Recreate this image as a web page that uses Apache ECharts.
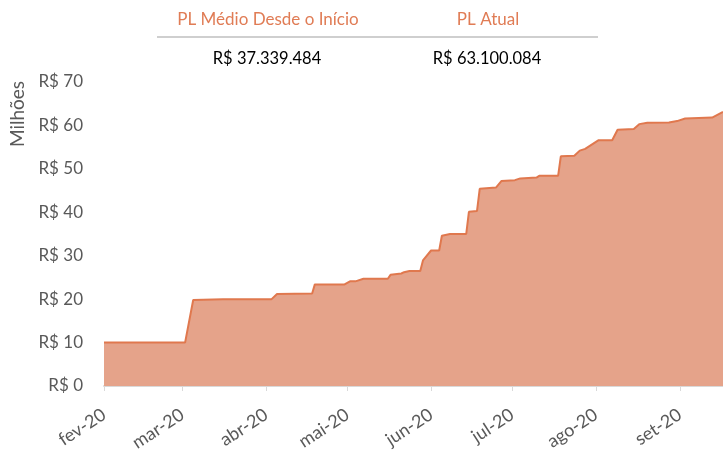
<!DOCTYPE html>
<html>
<head>
<meta charset="utf-8">
<script src="https://cdn.jsdelivr.net/npm/echarts@6/dist/echarts.min.js"></script>
<style>
  html, body { margin: 0; padding: 0; background: #fff; }
  #chart { width: 723px; height: 453px; }
</style>
</head>
<body>
<div id="chart"></div>
<script>
const dates = [
  '2020-02-01', '2020-03-02', '2020-03-05', '2020-03-16', '2020-04-03', '2020-04-05',
  '2020-04-18', '2020-04-19', '2020-04-30', '2020-05-02', '2020-05-04', '2020-05-07',
  '2020-05-16', '2020-05-17', '2020-05-21', '2020-05-22', '2020-05-24', '2020-05-28',
  '2020-05-29', '2020-06-01', '2020-06-04', '2020-06-05', '2020-06-08', '2020-06-14',
  '2020-06-15', '2020-06-18', '2020-06-19', '2020-06-25', '2020-06-27', '2020-07-02',
  '2020-07-04', '2020-07-10', '2020-07-11', '2020-07-18', '2020-07-19', '2020-07-24',
  '2020-07-26', '2020-07-28', '2020-08-02', '2020-08-07', '2020-08-09', '2020-08-15',
  '2020-08-17', '2020-08-20', '2020-08-28', '2020-08-31', '2020-09-03', '2020-09-13',
  '2020-09-17'
]
const plMillions = [
  10.0, 10.0, 19.8, 20.0, 20.0, 21.2,
  21.3, 23.4, 23.4, 24.1, 24.1, 24.7,
  24.7, 25.6, 25.9, 26.2, 26.5, 26.5,
  28.9, 31.2, 31.2, 34.6, 35.0, 35.0,
  40.1, 40.3, 45.4, 45.7, 47.2, 47.4,
  47.8, 48.0, 48.4, 48.4, 52.9, 53.0,
  54.2, 54.6, 56.6, 56.6, 59.0, 59.2,
  60.3, 60.6, 60.7, 61.0, 61.6, 61.8,
  63.1
]
const monthNames = ['jan', 'fev', 'mar', 'abr', 'mai', 'jun', 'jul', 'ago', 'set', 'out', 'nov', 'dez']
const headerLabels = ['PL Médio Desde o Início', 'PL Atual']
const headerValues = ['R$ 37.339.484', 'R$ 63.100.084']

const font = 'Lato, "Open Sans", sans-serif'
const chart = echarts.init(document.getElementById('chart'))

chart.setOption({
  animation: false,
  grid: { top: 82, right: 0, bottom: 67, left: 104, outerBoundsMode: 'none', containLabel: false },
  xAxis: {
    type: 'time',
    min: '2020-02-01',
    max: '2020-09-17',
    splitNumber: 8,
    boundaryGap: false,
    axisLine: { lineStyle: { color: '#d9d9d9', width: 2 } },
    axisTick: { show: true, length: 5, lineStyle: { color: '#d9d9d9' } },
    splitLine: { show: false },
    axisLabel: {
      rotate: 33,
      margin: 27,
      color: '#595959',
      fontFamily: font,
      fontSize: 18,
      showMaxLabel: false,
      formatter: (value) => {
        const d = new Date(value)
        if (d.getDate() !== 1) return ''
        return monthNames[d.getMonth()] + '-' + String(d.getFullYear()).slice(2)
      },
    },
  },
  yAxis: {
    type: 'value',
    min: 0,
    max: 70,
    interval: 10,
    axisLine: { show: false },
    axisTick: { show: false },
    splitLine: { show: false },
    axisLabel: {
      margin: 21,
      color: '#595959',
      fontFamily: font,
      fontSize: 17,
      formatter: (v) => 'R$ ' + v,
    },
  },
  graphic: [
    {
      type: 'text',
      x: 18,
      y: 114,
      rotation: Math.PI / 2,
      style: {
        text: 'Milhões',
        fill: '#595959',
        font: '19px ' + font,
        align: 'center',
        verticalAlign: 'middle',
      },
    },
    {
      type: 'line',
      shape: { x1: 157, y1: 37, x2: 598, y2: 37 },
      style: { stroke: '#bfbfbf', lineWidth: 1.5 },
    },
    {
      type: 'text',
      x: 268,
      y: 20,
      style: { text: headerLabels[0], fill: '#e07c55', font: '17px ' + font, align: 'center', verticalAlign: 'middle' },
    },
    {
      type: 'text',
      x: 488,
      y: 20,
      style: { text: headerLabels[1], fill: '#e07c55', font: '17px ' + font, align: 'center', verticalAlign: 'middle' },
    },
    {
      type: 'text',
      x: 267,
      y: 59,
      style: { text: headerValues[0], fill: '#000', font: '16.5px ' + font, align: 'center', verticalAlign: 'middle' },
    },
    {
      type: 'text',
      x: 487,
      y: 59,
      style: { text: headerValues[1], fill: '#000', font: '16.5px ' + font, align: 'center', verticalAlign: 'middle' },
    },
  ],
  series: [
    {
      type: 'line',
      data: dates.map((d, i) => [d, plMillions[i]]),
      showSymbol: false,
      lineStyle: { color: '#e0784e', width: 2 },
      areaStyle: { color: '#e5a38a', opacity: 1 },
    },
  ],
})
</script>
</body>
</html>
